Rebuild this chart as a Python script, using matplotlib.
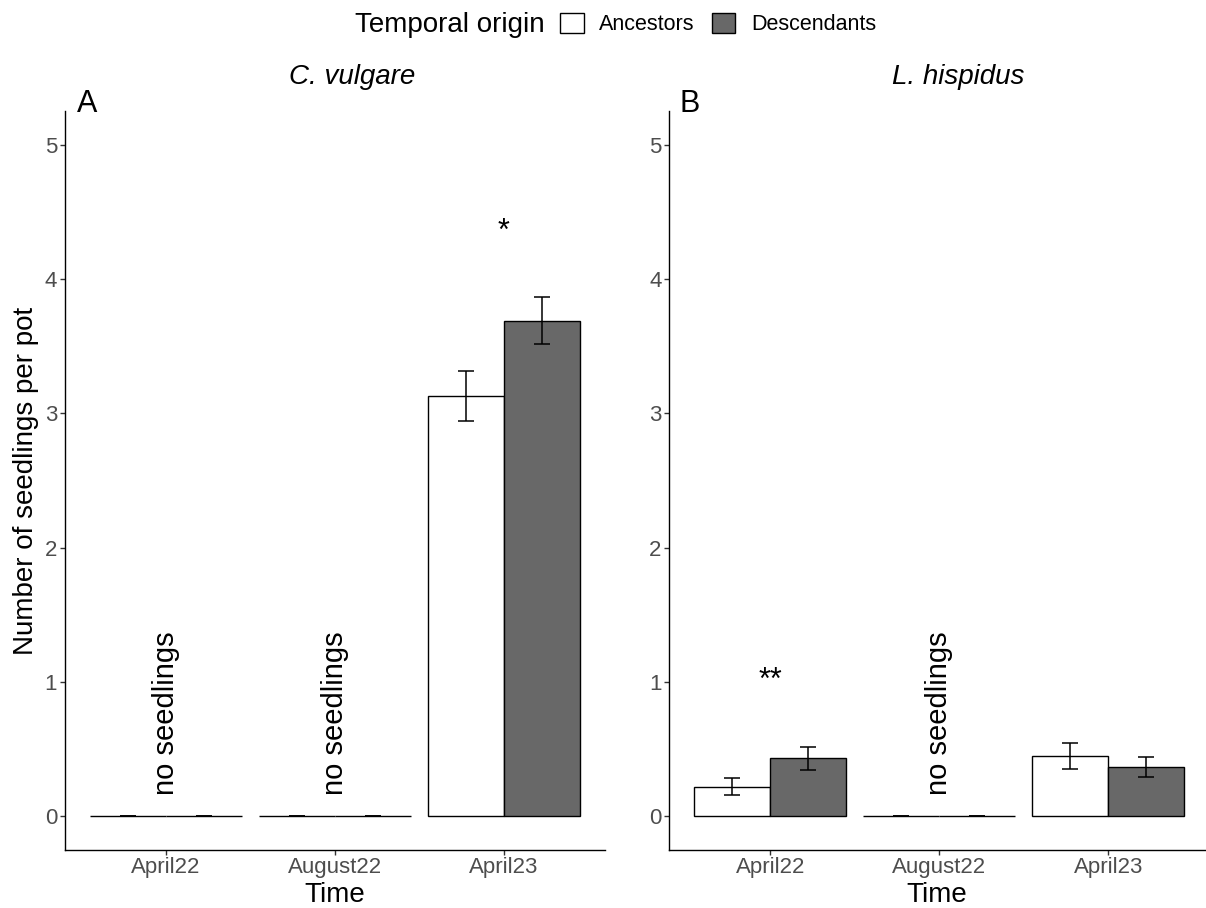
import numpy as np
import matplotlib
matplotlib.use("Agg")
import matplotlib.pyplot as plt
from matplotlib.patches import Patch

plt.rcParams['font.family'] = ['Liberation Sans', 'DejaVu Sans']

# === Daten ===
times = ["April22", "August22", "April23"]

cv_anc = [0, 0, 3.13]
cv_anc_se = [0, 0, 0.185]
cv_desc = [0, 0, 3.69]
cv_desc_se = [0, 0, 0.175]

lh_anc = [0.22, 0, 0.45]
lh_anc_se = [0.064, 0, 0.097]
lh_desc = [0.43, 0, 0.365]
lh_desc_se = [0.087, 0, 0.072]

cv_empty = ["April22", "August22"]
lh_empty = ["August22"]
cv_stars = {"April23": "*"}
lh_stars = {"April22": "**"}

ANC_COL = "white"
DESC_COL = "#686868"
W = 1206
H = 908


def panel(ax, anc, anc_se, desc, desc_se, empty, stars, xmax):
    x = np.arange(1, len(times) + 1)
    bw = 0.45
    ekw = dict(ecolor="black", elinewidth=1.1, capsize=6, capthick=1.1)
    ax.bar(x - bw / 2, anc, bw, yerr=anc_se, color=ANC_COL,
           edgecolor="black", linewidth=1.0, error_kw=ekw)
    ax.bar(x + bw / 2, desc, bw, yerr=desc_se, color=DESC_COL,
           edgecolor="black", linewidth=1.0, error_kw=ekw)

    for t in empty:
        ax.text(times.index(t) + 1, 0.16, "no seedlings", rotation=90,
                rotation_mode="anchor", ha="left", va="center", fontsize=21)

    for t, s in stars.items():
        i = times.index(t)
        top = max(anc[i] + anc_se[i], desc[i] + desc_se[i])
        ax.text(i + 1, top + 0.43, s, ha="center", va="baseline", fontsize=22)

    ax.set_xlim(0.4, xmax)
    ax.set_ylim(-0.25, 5.25)
    ax.set_xticks(x)
    ax.set_xticklabels(times)
    ax.set_yticks([0, 1, 2, 3, 4, 5])
    ax.tick_params(labelsize=16, labelcolor="#4D4D4D", color="#333333",
                   length=3.3, width=1.0, pad=2)
    for sp in ["top", "right"]:
        ax.spines[sp].set_visible(False)
    for sp in ["left", "bottom"]:
        ax.spines[sp].set_linewidth(1.0)
        ax.spines[sp].set_color("black")
    ax.set_xlabel("Time", fontsize=20, labelpad=3)


fig = plt.figure(figsize=(W / 100, H / 100), dpi=100)

y0 = (H - 849.6) / H
hh = (849.6 - 111.5) / H
ax1 = fig.add_axes([64.5 / W, y0, (605 - 64.5) / W, hh])
ax2 = fig.add_axes([669 / W, y0, (1205 - 669) / W, hh])

panel(ax1, cv_anc, cv_anc_se, cv_desc, cv_desc_se, cv_empty, cv_stars, 3.6)
panel(ax2, lh_anc, lh_anc_se, lh_desc, lh_desc_se, lh_empty, lh_stars, 3.572)

ax1.set_ylabel("Number of seedlings per pot", fontsize=20, labelpad=4)

# Titel und Panelbuchstaben
fig.text(352 / W, 1 - 84 / H, "C. vulgare", style="italic", fontsize=20,
         ha="center", va="baseline")
fig.text(958 / W, 1 - 84 / H, "L. hispidus", style="italic", fontsize=20,
         ha="center", va="baseline")
fig.text(77 / W, 1 - 112 / H, "A", fontsize=22, ha="left", va="baseline")
fig.text(679 / W, 1 - 112 / H, "B", fontsize=22, ha="left", va="baseline")

# Legende oben
fig.text(545 / W, 1 - 25 / H, "Temporal origin", fontsize=20,
         ha="right", va="center")
handles = [Patch(facecolor=ANC_COL, edgecolor="black", linewidth=1.0, label="Ancestors"),
           Patch(facecolor=DESC_COL, edgecolor="black", linewidth=1.0, label="Descendants")]
fig.legend(handles=handles, ncol=2, loc="center left",
           bbox_to_anchor=(560 / W, 1 - 24 / H), frameon=False,
           fontsize=15.5, handlelength=1.1, handleheight=1.07,
           handletextpad=0.73, columnspacing=0.78, borderpad=0,
           borderaxespad=0)

fig.savefig("out.png", dpi=100)
